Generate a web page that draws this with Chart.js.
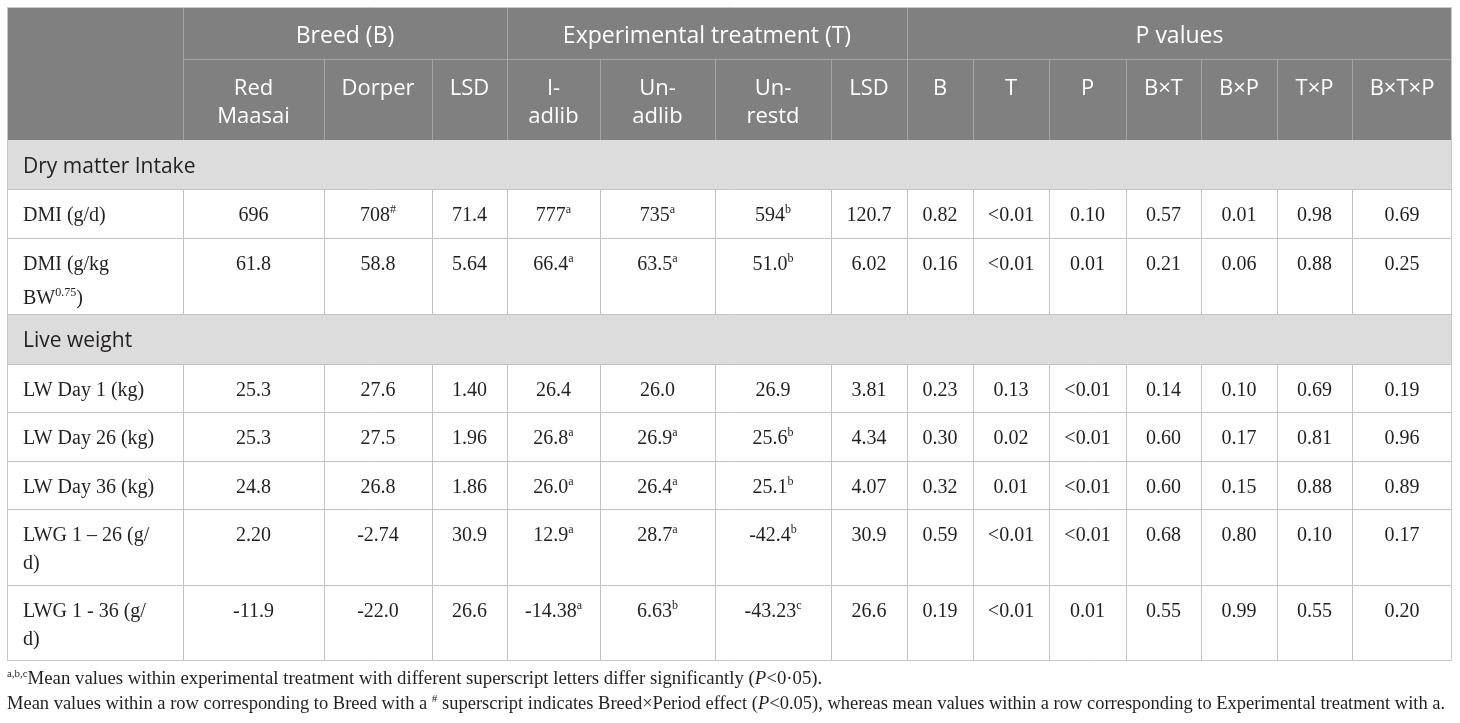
<!DOCTYPE html>
<html>
<head>
<meta charset="utf-8">
<script src="https://cdn.jsdelivr.net/npm/chart.js@4.4.1/dist/chart.umd.min.js"></script>
<style>
  html, body { margin: 0; padding: 0; background: #fff; }
  #wrap { position: relative; width: 1460px; height: 723px; overflow: hidden; }
  .note {
    position: absolute; left: 7px; white-space: nowrap;
    font-family: "Liberation Serif", "DejaVu Serif", serif;
    font-size: 18px; color: #231f20; transform-origin: 0 0;
  }
  .note sup { font-size: 11px; vertical-align: 0; position: relative; top: -7px; }
</style>
</head>
<body>
<div id="wrap">
  <canvas id="tbl"></canvas>
  <div class="note" id="note1" data-w="815" style="top:667px;font-size:19px"><sup>a,b,c</sup>Mean values within experimental treatment with different superscript letters differ significantly (<i>P</i>&lt;0·05).</div>
  <div class="note" id="note2" data-w="1438" style="top:693px">Mean values within a row corresponding to Breed with a <sup>#</sup> superscript indicates Breed×Period effect (<i>P</i>&lt;0.05), whereas mean values within a row corresponding to Experimental treatment with a.</div>
</div>
<script>
// ─── TABLE DATA ─────────────────────
// "^{..}" marks a superscript, "\n" a line break inside a cell.
const groupHeads = ["Breed (B)", "Experimental treatment (T)", "P values"];
const groupSpans = [3, 4, 7];
const colHeads = ["Red\nMaasai", "Dorper", "LSD", "I-\nadlib", "Un-\nadlib", "Un-\nrestd", "LSD",
                  "B", "T", "P", "B×T", "B×P", "T×P", "B×T×P"];
const sections = ["Dry matter Intake", "Live weight"];

const dmiLabels = ["DMI (g/d)", "DMI (g/kg\nBW^{0.75})"];
const dmiBreed = [["696", "708^{#}", "71.4"], ["61.8", "58.8", "5.64"]];
const dmiTreat = [["777^{a}", "735^{a}", "594^{b}", "120.7"], ["66.4^{a}", "63.5^{a}", "51.0^{b}", "6.02"]];
const dmiP = [["0.82", "<0.01", "0.10", "0.57", "0.01", "0.98", "0.69"],
              ["0.16", "<0.01", "0.01", "0.21", "0.06", "0.88", "0.25"]];

const lwLabels = ["LW Day 1 (kg)", "LW Day 26 (kg)", "LW Day 36 (kg)", "LWG 1 – 26 (g/\nd)", "LWG 1 - 36 (g/\nd)"];
const lwBreed = [["25.3", "27.6", "1.40"], ["25.3", "27.5", "1.96"], ["24.8", "26.8", "1.86"],
                 ["2.20", "-2.74", "30.9"], ["-11.9", "-22.0", "26.6"]];
const lwTreat = [["26.4", "26.0", "26.9", "3.81"], ["26.8^{a}", "26.9^{a}", "25.6^{b}", "4.34"],
                 ["26.0^{a}", "26.4^{a}", "25.1^{b}", "4.07"], ["12.9^{a}", "28.7^{a}", "-42.4^{b}", "30.9"],
                 ["-14.38^{a}", "6.63^{b}", "-43.23^{c}", "26.6"]];
const lwP = [["0.23", "0.13", "<0.01", "0.14", "0.10", "0.69", "0.19"],
             ["0.30", "0.02", "<0.01", "0.60", "0.17", "0.81", "0.96"],
             ["0.32", "0.01", "<0.01", "0.60", "0.15", "0.88", "0.89"],
             ["0.59", "<0.01", "<0.01", "0.68", "0.80", "0.10", "0.17"],
             ["0.19", "<0.01", "0.01", "0.55", "0.99", "0.55", "0.20"]];

// ─── LAYOUT (scale units) ─────────────────────
const colW = [176, 141, 108, 75, 93, 115, 116, 76, 66, 76, 77, 75, 76, 75, 100];
const rowH = [52, 81, 49, 49, 76, 50, 48, 49, 48, 76, 76];

const SERIF = '"Liberation Serif", "DejaVu Serif", serif';
const SANS = '"Open Sans", "Noto Sans", sans-serif';
const ink = "#231f20";

function edges(sizes) {
  const out = [0];
  sizes.forEach((s) => out.push(out[out.length - 1] + s));
  return out;
}
const colEdge = edges(colW);
const rowEdge = edges(rowH);

// body rows, top to bottom
const bodyRows = [];
bodyRows.push({ section: sections[0] });
dmiLabels.forEach((l, i) => bodyRows.push({ label: l, cells: [...dmiBreed[i], ...dmiTreat[i], ...dmiP[i]] }));
bodyRows.push({ section: sections[1] });
lwLabels.forEach((l, i) => bodyRows.push({ label: l, cells: [...lwBreed[i], ...lwTreat[i], ...lwP[i]] }));

function parseRuns(str) {
  const runs = [];
  const re = /\^\{([^}]*)\}/g;
  let last = 0, m;
  while ((m = re.exec(str))) {
    if (m.index > last) runs.push({ t: str.slice(last, m.index), sup: false });
    runs.push({ t: m[1], sup: true });
    last = re.lastIndex;
  }
  if (last < str.length) runs.push({ t: str.slice(last), sup: false });
  return runs;
}

function drawRich(ctx, str, x, y, align, size, family) {
  const runs = parseRuns(str);
  const supSize = Math.round(size * 0.6);
  const fontOf = (r) => (r.sup ? supSize : size) + "px " + family;
  let total = 0;
  runs.forEach((r) => { ctx.font = fontOf(r); r.w = ctx.measureText(r.t).width; total += r.w; });
  let cx = align === "center" ? x - total / 2 : x;
  ctx.textAlign = "left";
  ctx.textBaseline = "alphabetic";
  runs.forEach((r) => {
    ctx.font = fontOf(r);
    ctx.fillText(r.t, cx, r.sup ? y - size * 0.42 : y);
    cx += r.w;
  });
}

function drawLines(ctx, text, x, y, align, size, family, gap) {
  let yy = y;
  text.split("\n").forEach((line, i) => {
    if (i > 0) yy += gap + (line.includes("^{") ? 6 : 0);
    drawRich(ctx, line, x, yy, align, size, family);
  });
}

const tablePlugin = {
  id: "tablePlugin",
  afterDraw(chart) {
    const { ctx } = chart;
    const sx = chart.scales.x, sy = chart.scales.y;
    const X = (i) => Math.round(sx.getPixelForValue(colEdge[i]));
    const Y = (r) => Math.round(sy.getPixelForValue(rowEdge[r]));
    const nCol = colW.length, nRow = rowH.length;
    const hline = (y, x0, x1) => { ctx.beginPath(); ctx.moveTo(x0, y + 0.5); ctx.lineTo(x1, y + 0.5); ctx.stroke(); };
    const vline = (x, y0, y1) => { ctx.beginPath(); ctx.moveTo(x + 0.5, y0); ctx.lineTo(x + 0.5, y1); ctx.stroke(); };

    ctx.save();
    ctx.lineWidth = 1;

    // header block
    ctx.fillStyle = "#808080";
    ctx.fillRect(X(0), Y(0), X(nCol) - X(0), Y(2) - Y(0));
    ctx.strokeStyle = "#a4a4a4";
    hline(Y(1), X(1), X(nCol));
    vline(X(1), Y(0), Y(2));
    let g = 1;
    groupSpans.forEach((span) => { g += span; if (g < nCol) vline(X(g), Y(0), Y(2)); });
    for (let c = 2; c < nCol; c++) vline(X(c), Y(1), Y(2));

    ctx.fillStyle = "#fff";
    g = 1;
    groupHeads.forEach((h, i) => {
      const cx = (X(g) + X(g + groupSpans[i])) / 2;
      drawRich(ctx, h, cx, Y(0) + 36, "center", 23, SANS);
      g += groupSpans[i];
    });
    colHeads.forEach((h, i) => {
      const cx = (X(i + 1) + X(i + 2)) / 2;
      drawLines(ctx, h, cx, Y(1) + 36, "center", 22, SANS, 28);
    });

    // body
    bodyRows.forEach((row, k) => {
      const r = k + 2;
      const top = Y(r), bot = Y(r + 1);
      if (row.section) {
        ctx.fillStyle = "#dcdcdc";
        ctx.fillRect(X(0), top, X(nCol) - X(0), bot - top);
        ctx.fillStyle = ink;
        drawRich(ctx, row.section, X(0) + 16, top + 33, "left", 21, SANS);
        return;
      }
      ctx.strokeStyle = "#c2c2c2";
      for (let c = 1; c < nCol; c++) vline(X(c), top, bot);
      ctx.fillStyle = ink;
      drawLines(ctx, row.label, X(0) + 16, top + 32, "left", 20, SERIF, 28);
      row.cells.forEach((v, c) => {
        const cx = (X(c + 1) + X(c + 2)) / 2;
        drawLines(ctx, v, cx, top + 32, "center", 20, SERIF, 28);
      });
    });
    ctx.strokeStyle = "#c2c2c2";
    for (let r = 3; r < nRow; r++) hline(Y(r), X(0), X(nCol));

    // outer frame
    ctx.strokeStyle = "#c8c8c8";
    hline(Y(0), X(0), X(nCol));
    hline(Y(nRow) - 1, X(0), X(nCol));
    vline(X(0), Y(0), Y(nRow));
    vline(X(nCol) - 1, Y(0), Y(nRow));
    ctx.restore();
  }
};

new Chart(document.getElementById("tbl"), {
  type: "scatter",
  data: { datasets: [] },
  plugins: [tablePlugin],
  options: {
    responsive: true,
    maintainAspectRatio: false,
    animation: false,
    layout: { padding: { left: 7, top: 7, right: 8, bottom: 62 } },
    plugins: { legend: { display: false }, tooltip: { enabled: false } },
    scales: {
      x: { type: "linear", display: false, min: 0, max: colEdge[colEdge.length - 1] },
      y: { type: "linear", display: false, reverse: true, min: 0, max: rowEdge[rowEdge.length - 1] }
    }
  }
});

// footnotes: fit each line to the width it takes in the print layout
document.querySelectorAll(".note").forEach((el) => {
  const target = +el.dataset.w;
  el.style.transform = "scaleX(" + (target / el.offsetWidth) + ")";
});
</script>
</body>
</html>
